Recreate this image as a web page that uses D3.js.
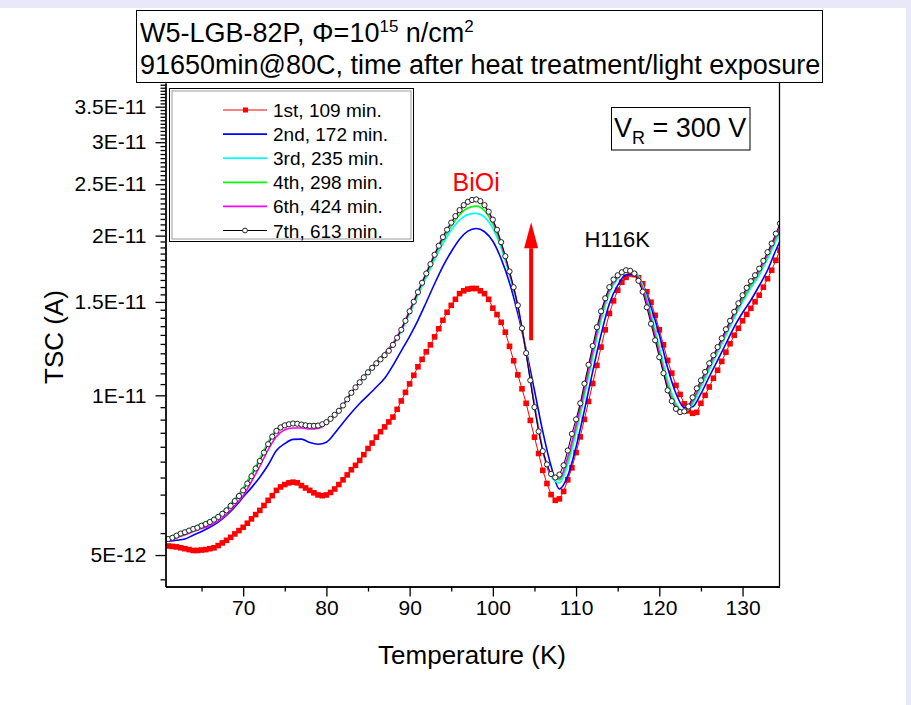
<!DOCTYPE html>
<html><head><meta charset="utf-8">
<script src="https://cdn.jsdelivr.net/npm/d3@7"></script>
<style>
body{margin:0;background:#e8e8f8;}
svg{display:block;font-family:"Liberation Sans",Arial,sans-serif;}
</style>
</head><body>
<svg id="chart" width="911" height="705"></svg>
<script>
// ---------- DATA (TSC in pA, i.e. ×1E-12 A) ----------
const tempsFine = d3.range(61, 134.51, 0.5);   // K, sampling of the marker series
const tempsLine = d3.range(61, 135.01, 1);     // K, sampling of the line-only series

const run1st = [
5.20,5.19,5.18,5.16,5.14,5.12,5.10,5.10,5.11,5.12,
5.14,5.16,5.21,5.27,5.33,5.40,5.48,5.56,5.64,5.74,
5.85,5.96,6.07,6.20,6.34,6.47,6.62,6.72,6.79,6.84,
6.86,6.84,6.76,6.69,6.62,6.55,6.49,6.47,6.49,6.56,
6.66,6.79,6.93,7.08,7.24,7.38,7.54,7.73,7.94,8.13,
8.34,8.54,8.72,8.91,9.10,9.41,9.76,10.13,10.51,10.91,
11.32,11.69,12.08,12.45,12.89,13.35,13.85,14.34,14.78,15.17,
15.55,15.74,15.86,15.90,15.90,15.74,15.55,15.17,14.60,14.20,
13.73,13.15,12.37,11.62,10.93,10.29,9.66,8.97,8.34,7.77,
7.22,6.82,6.50,6.34,6.38,6.59,6.93,7.30,7.80,8.35,
9.01,9.74,10.53,11.39,12.33,13.29,14.27,15.07,15.78,16.34,
16.69,16.93,16.88,16.66,16.23,15.68,14.98,14.15,13.29,12.45,
11.64,11.01,10.44,10.04,9.64,9.35,9.25,9.29,9.66,10.00,
10.37,10.77,11.15,11.59,12.06,12.51,12.98,13.38,13.82,14.21,
14.59,15.01,15.44,15.99,16.59,17.21,17.97,18.77];

const run7th = [
5.36,5.39,5.44,5.49,5.52,5.56,5.60,5.63,5.68,5.72,
5.77,5.83,5.90,5.98,6.07,6.19,6.32,6.46,6.62,6.82,
7.04,7.28,7.52,7.80,8.09,8.36,8.57,8.70,8.78,8.82,
8.85,8.84,8.81,8.78,8.76,8.76,8.77,8.82,8.90,9.03,
9.19,9.35,9.57,9.83,10.11,10.35,10.58,10.81,11.05,11.27,
11.49,11.69,11.90,12.13,12.45,12.84,13.29,13.82,14.40,15.01,
15.65,16.30,16.97,17.67,18.41,19.14,19.87,20.52,21.16,21.77,
22.34,22.83,23.16,23.35,23.40,23.23,22.83,22.19,21.44,20.52,
19.44,18.29,17.12,15.99,14.78,13.38,12.01,10.67,9.50,8.55,
7.85,7.41,7.11,7.00,7.09,7.38,7.87,8.46,9.01,9.66,
10.52,11.42,12.39,13.44,14.40,15.24,15.99,16.53,16.84,17.06,
17.21,17.17,16.97,16.44,15.68,14.65,13.64,12.70,11.80,11.01,
10.22,9.75,9.43,9.30,9.33,9.53,9.91,10.31,10.67,11.07,
11.49,11.90,12.33,12.81,13.32,13.82,14.37,14.91,15.44,15.95,
16.41,16.84,17.33,17.93,18.61,19.33,20.17,21.08];

const run2nd = [
5.31,5.33,5.36,5.45,5.54,5.64,5.77,5.94,6.16,6.43,
6.70,7.01,7.39,7.87,8.11,8.26,8.27,8.15,8.09,8.16,
8.48,8.88,9.27,9.65,10.00,10.37,10.77,11.39,12.13,12.92,
13.85,14.98,16.23,17.51,18.65,19.69,20.39,20.63,20.34,19.52,
18.08,16.30,14.26,12.18,10.22,8.54,7.35,6.66,7.05,7.99,
9.37,11.10,13.01,14.88,16.12,16.87,16.91,16.16,14.67,13.01,
11.27,10.08,9.48,9.52,10.07,10.84,11.64,12.51,13.46,14.31,
15.11,16.09,17.21,18.77,20.30];

const run3rd = [
5.39,5.48,5.56,5.64,5.73,5.82,5.95,6.13,6.39,6.69,
7.12,7.60,8.16,8.63,8.84,8.89,8.87,8.82,8.82,8.93,
9.21,9.59,10.13,10.58,11.05,11.49,11.90,12.42,13.20,14.27,
15.44,16.69,18.01,19.31,20.48,21.39,21.91,22.03,21.67,20.61,
18.94,16.84,14.65,12.06,9.62,7.91,7.03,6.84,7.41,8.51,
9.96,11.80,13.85,15.58,16.59,17.10,17.10,16.16,14.27,12.34,
10.67,9.66,9.31,9.62,10.35,11.17,12.03,12.95,13.97,14.98,
15.92,16.84,18.05,19.52,21.20];

const run4th = [
5.38,5.46,5.55,5.63,5.72,5.81,5.94,6.12,6.38,6.68,
7.11,7.58,8.15,8.61,8.84,8.89,8.87,8.82,8.82,8.93,
9.21,9.59,10.13,10.58,11.05,11.49,11.90,12.45,13.26,14.34,
15.58,16.87,18.24,19.61,20.84,21.91,22.54,22.73,22.29,21.02,
19.18,16.99,14.71,12.03,9.57,7.89,7.06,6.93,7.54,8.65,
10.13,11.98,14.03,15.71,16.69,17.14,17.06,16.02,14.06,12.13,
10.49,9.57,9.31,9.70,10.47,11.29,12.16,13.09,14.12,15.14,
16.09,17.03,18.29,19.78,21.48];

const run6th = [
5.33,5.39,5.46,5.54,5.61,5.68,5.80,5.96,6.20,6.47,
6.88,7.35,7.89,8.36,8.61,8.68,8.68,8.64,8.66,8.84,
9.15,9.57,10.13,10.62,11.10,11.56,12.01,12.54,13.35,14.46,
15.71,17.03,18.45,19.91,21.16,22.29,23.03,23.23,22.73,21.35,
19.35,17.06,14.78,12.03,9.55,7.87,7.08,6.98,7.66,8.80,
10.31,12.16,14.21,15.85,16.77,17.17,17.03,15.88,13.88,11.98,
10.35,9.48,9.31,9.79,10.56,11.39,12.24,13.20,14.24,15.31,
16.27,17.17,18.45,19.96,21.77];

const seriesNames = ["1st, 109 min.","2nd, 172 min.","3rd, 235 min.","4th, 298 min.","6th, 424 min.","7th, 613 min."];
const seriesColors = ["#ff0000","#0000ff","#00ffff","#00ff00","#ff00ff","#000000"];

const xTickValues = [70,80,90,100,110,120,130];
const xMinorTicks = [65,75,85,95,105,115,125];
const yTickValues = [5e-12,1e-11,1.5e-11,2e-11,2.5e-11,3e-11,3.5e-11];
const yTickLabels = ["5E-12","1E-11","1.5E-11","2E-11","2.5E-11","3E-11","3.5E-11"];

const titleLine2 = "91650min@80C, time after heat treatment/light exposure";

// ---------- LAYOUT ----------
const L = 165.5, R = 779.5, T = 83, B = 586.5;
const svg = d3.select("#chart");
svg.append("rect").attr("x",0).attr("y",8).attr("width",906).attr("height",697).attr("fill","#fff");

const x = d3.scaleLinear().domain([60.67,134.44]).range([L,R]);
const y = d3.scaleLog().domain([4.362e-12,3.879e-11]).range([B,T]);
const pA = v => v*1e-12;

svg.append("defs").append("clipPath").attr("id","plotclip")
  .append("rect").attr("x",L).attr("y",T).attr("width",R-L).attr("height",B-T);

const plot = svg.append("g").attr("clip-path","url(#plotclip)");

const fineLine = d3.line().x((d,i)=>x(tempsFine[i])).y(d=>y(pA(d)));
const smoothLine = d3.line().curve(d3.curveMonotoneX).x((d,i)=>x(tempsLine[i])).y(d=>y(pA(d)));

// 1st run: red line + squares
plot.append("path").datum(run1st).attr("d",fineLine).attr("fill","none").attr("stroke","#ff0000").attr("stroke-width",1);
plot.append("g").selectAll("rect").data(run1st).join("rect")
  .attr("x",(d,i)=>x(tempsFine[i])-2.8).attr("y",d=>y(pA(d))-2.8)
  .attr("width",5.6).attr("height",5.6).attr("fill","#ff0000");

// line-only runs
[[run2nd,"#0000ff"],[run3rd,"#00ffff"],[run4th,"#00ff00"],[run6th,"#ff00ff"]].forEach(([data,c])=>{
  plot.append("path").datum(data).attr("d",smoothLine).attr("fill","none").attr("stroke",c).attr("stroke-width",1.6);
});

// 7th run: black line + open circles
plot.append("path").datum(run7th).attr("d",fineLine).attr("fill","none").attr("stroke","#000").attr("stroke-width",1);
plot.append("g").selectAll("circle").data(run7th).join("circle")
  .attr("cx",(d,i)=>x(tempsFine[i])).attr("cy",d=>y(pA(d))).attr("r",2.6)
  .attr("fill","#fff").attr("stroke","#222").attr("stroke-width",1);

// ---------- AXES ----------
const axisStyle = g => { g.selectAll("path,line").attr("stroke","#000").attr("stroke-width",1.3); g.selectAll("text").attr("font-family","Liberation Sans, Arial, sans-serif").attr("fill","#000"); };

const yMinor = d3.range(9,78).map(k=>k*0.5e-12).filter(v=>!yTickValues.some(t=>Math.abs(t-v)<1e-15));
svg.append("g").attr("transform",`translate(${L},0)`)
  .call(d3.axisLeft(y).tickValues(yMinor).tickSize(5).tickSizeOuter(0).tickFormat(""))
  .call(axisStyle);
svg.append("g").attr("transform",`translate(${L},0)`)
  .call(d3.axisLeft(y).tickValues(yTickValues).tickSize(10).tickSizeOuter(0).tickPadding(9)
    .tickFormat((d,i)=>yTickLabels[i]))
  .call(axisStyle).call(g=>g.selectAll("text").attr("font-size",21));

svg.append("g").attr("transform",`translate(0,${B})`)
  .call(d3.axisBottom(x).tickValues(xMinorTicks).tickSize(5).tickSizeOuter(0).tickFormat(""))
  .call(axisStyle);
svg.append("g").attr("transform",`translate(0,${B})`)
  .call(d3.axisBottom(x).tickValues(xTickValues).tickSize(10).tickSizeOuter(0).tickPadding(4)
    .tickFormat(d3.format("d")))
  .call(axisStyle).call(g=>g.selectAll("text").attr("font-size",21));

svg.append("line").attr("x1",R).attr("x2",R).attr("y1",T).attr("y2",B).attr("stroke","#000").attr("stroke-width",1.3);

// axis titles
svg.append("text").attr("x",472).attr("y",664).attr("text-anchor","middle").attr("font-size",26).text("Temperature (K)");
svg.append("text").attr("transform","translate(63,337) rotate(-90)").attr("text-anchor","middle").attr("font-size",26).text("TSC (A)");

// ---------- TITLE BOX ----------
svg.append("rect").attr("x",136.5).attr("y",10.5).attr("width",686).attr("height",72).attr("fill","#fff").attr("stroke","#000").attr("stroke-width",1);
const t1 = svg.append("text").attr("x",140).attr("y",42).attr("font-size",27);
t1.append("tspan").text("W5-LGB-82P, \u03A6=10");
t1.append("tspan").attr("dy",-10).attr("font-size",17).text("15");
t1.append("tspan").attr("dy",10).text(" n/cm");
t1.append("tspan").attr("dy",-10).attr("font-size",17).text("2");
svg.append("text").attr("x",140).attr("y",74).attr("font-size",27).text(titleLine2);

// ---------- LEGEND ----------
svg.append("rect").attr("x",169.5).attr("y",88.5).attr("width",244).attr("height",153).attr("fill","#fff").attr("stroke","#000").attr("stroke-width",1);
svg.append("rect").attr("x",172).attr("y",91).attr("width",239).attr("height",148).attr("fill","none").attr("stroke","#9a9a9a").attr("stroke-width",1);
const lg = svg.append("g");
seriesNames.forEach((name,i)=>{
  const cy = 110 + i*24.1;
  lg.append("line").attr("x1",223).attr("x2",267).attr("y1",cy).attr("y2",cy)
    .attr("stroke",seriesColors[i]).attr("stroke-width", (i===0||i===5)?1:1.8);
  if(i===0) lg.append("rect").attr("x",243).attr("y",cy-2.5).attr("width",5).attr("height",5).attr("fill","#ff0000");
  if(i===5) lg.append("circle").attr("cx",245).attr("cy",cy).attr("r",2.4).attr("fill","#fff").attr("stroke","#222");
  lg.append("text").attr("x",273).attr("y",cy+7).attr("font-size",19).text(name);
});

// ---------- ANNOTATIONS ----------
const vr = svg.append("g");
vr.append("rect").attr("x",611.5).attr("y",107.5).attr("width",138.5).attr("height",42.5).attr("fill","#fff").attr("stroke","#000").attr("stroke-width",1);
const vt = vr.append("text").attr("x",614).attr("y",137).attr("font-size",27);
vt.append("tspan").text("V");
vt.append("tspan").attr("dy",7).attr("font-size",18).text("R");
vt.append("tspan").attr("dy",-7).text(" = 300 V");

svg.append("text").attr("x",x(98)).attr("y",y(24.26e-12)).attr("text-anchor","middle").attr("font-size",25).attr("fill","#ff0000").text("BiOi");
svg.append("text").attr("x",x(111.0)).attr("y",y(19.0e-12)).attr("font-size",22).attr("fill","#000").text("H116K");

const ax = x(104.6), yb = y(1.27e-11), yh = y(1.894e-11), yt = y(2.12e-11);
svg.append("rect").attr("x",ax-2).attr("y",yh).attr("width",4).attr("height",yb-yh).attr("fill","#ff0000");
svg.append("path").attr("d",`M${ax-7},${yh}L${ax+7},${yh}L${ax},${yt}Z`).attr("fill","#ff0000");
</script>
</body></html>
